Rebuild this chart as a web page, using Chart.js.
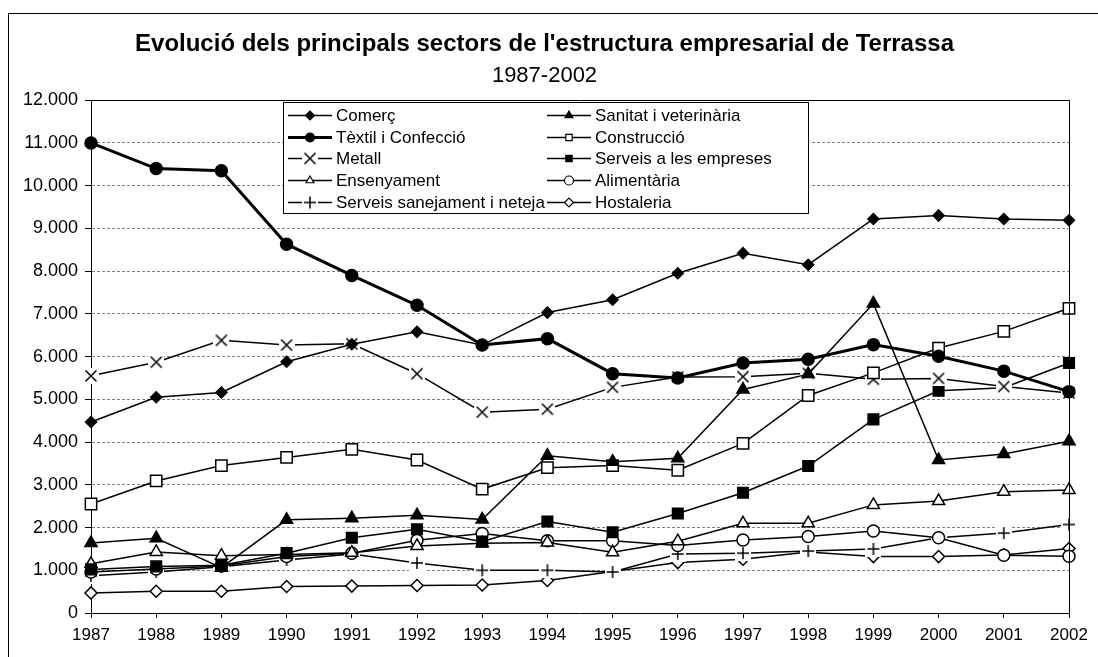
<!DOCTYPE html>
<html>
<head>
<meta charset="utf-8">
<script src="https://cdn.jsdelivr.net/npm/chart.js@4/dist/chart.umd.min.js"></script>
<style>
  html, body { margin: 0; padding: 0; background: #fff; }
</style>
</head>
<body>
<canvas id="myChart" width="1098" height="657"></canvas>
<script>
// years on the x axis
const years = ['1987', '1988', '1989', '1990', '1991', '1992', '1993', '1994',
               '1995', '1996', '1997', '1998', '1999', '2000', '2001', '2002'];

// number of companies per sector
const comerc      = [4470, 5050, 5160, 5880, 6290, 6580, 6270, 7030, 7330, 7950, 8420, 8150, 9220, 9300, 9220, 9190];
const sanitat     = [1640, 1750, 1060, 2180, 2220, 2290, 2190, 3680, 3540, 3620, 5230, 5590, 7240, 3580, 3720, 4020];
const textil      = [11000, 10400, 10350, 8630, 7900, 7200, 6270, 6420, 5600, 5500, 5850, 5940, 6280, 6010, 5660, 5180];
const construccio = [2550, 3090, 3450, 3640, 3830, 3580, 2900, 3400, 3450, 3340, 3970, 5090, 5620, 6200, 6590, 7130];
const metall      = [5550, 5870, 6380, 6270, 6300, 5600, 4700, 4770, 5280, 5520, 5530, 5610, 5470, 5490, 5300, 5150];
const serveisEmp  = [1020, 1090, 1120, 1400, 1760, 1960, 1670, 2140, 1890, 2330, 2815, 3440, 4530, 5200, 5270, 5850];
const ensenyament = [1150, 1430, 1340, 1370, 1410, 1570, 1630, 1650, 1420, 1680, 2100, 2100, 2530, 2620, 2840, 2880];
const alimentaria = [960, 1030, 1100, 1320, 1400, 1700, 1860, 1690, 1690, 1580, 1710, 1790, 1920, 1760, 1350, 1330];
const sanejament  = [870, 960, 1080, 1240, 1380, 1170, 1000, 1000, 960, 1380, 1400, 1450, 1500, 1760, 1870, 2070];
const hostaleria  = [470, 510, 510, 620, 630, 645, 655, 760, 970, 1180, 1260, 1430, 1320, 1320, 1360, 1510];

const FONT = "'Liberation Sans', Arial, sans-serif";

// markers with a white box behind them (the line stops around the marker)
function boxMarker(kind) {
    const c = document.createElement('canvas');
    c.width = 16; c.height = 16;
    const g = c.getContext('2d');
    g.fillStyle = '#fff';
    g.fillRect(0, 0, 16, 16);
    g.strokeStyle = '#000';
    g.lineWidth = 1.5;
    g.beginPath();
    if (kind === 'x') {
        g.moveTo(2.5, 2.5); g.lineTo(13.5, 13.5);
        g.moveTo(13.5, 2.5); g.lineTo(2.5, 13.5);
    } else {
        g.moveTo(8, 2); g.lineTo(8, 14);
        g.moveTo(2, 8); g.lineTo(14, 8);
    }
    g.stroke();
    return c;
}

function series(label, data, style, radius, fill, width) {
    return {
        label: label,
        data: data,
        borderColor: '#000',
        borderWidth: width || 1.5,
        pointStyle: style,
        pointRadius: radius,
        pointBackgroundColor: fill,
        pointBorderColor: '#000',
        pointBorderWidth: 1.5,
        tension: 0,
        clip: false
    };
}

const datasets = [
    series('Comerç', comerc, 'rectRot', 5.5, '#000'),
    series('Sanitat i veterinària', sanitat, 'triangle', 7, '#000'),
    series('Tèxtil i Confecció', textil, 'circle', 6, '#000', 3),
    series('Construcció', construccio, 'rect', 8, '#fff'),
    series('Metall', metall, boxMarker('x'), 7, '#fff'),
    series('Serveis a les empreses', serveisEmp, 'rect', 7.5, '#000'),
    series('Ensenyament', ensenyament, 'triangle', 7, '#fff'),
    series('Alimentària', alimentaria, 'circle', 6, '#fff'),
    series('Serveis sanejament i neteja', sanejament, boxMarker('+'), 7, '#fff'),
    series('Hostaleria', hostaleria, 'rectRot', 6, '#fff')
];

// white page + outer frame, plot area border
const framePlugin = {
    id: 'frame',
    beforeDraw(chart) {
        const ctx = chart.ctx;
        ctx.save();
        ctx.fillStyle = '#fff';
        ctx.fillRect(0, 0, chart.width, chart.height);
        ctx.strokeStyle = '#000';
        ctx.lineWidth = 1;
        ctx.strokeRect(8.5, 13.5, chart.width + 20, chart.height + 20);
        ctx.restore();
    },
    afterDraw(chart) {
        const a = chart.chartArea;
        const ctx = chart.ctx;
        ctx.save();
        ctx.strokeStyle = '#000';
        ctx.lineWidth = 1;
        ctx.beginPath();
        ctx.moveTo(Math.round(a.left) + 0.5, Math.round(a.top) + 0.5);
        ctx.lineTo(Math.round(a.right) + 0.5, Math.round(a.top) + 0.5);
        ctx.lineTo(Math.round(a.right) + 0.5, Math.round(a.bottom) + 0.5);
        ctx.stroke();
        ctx.restore();
    }
};

// two-column legend box laid over the plot
const boxLegend = {
    id: 'boxLegend',
    afterDraw(chart) {
        const ctx = chart.ctx;
        ctx.save();
        ctx.fillStyle = '#fff';
        ctx.fillRect(283.5, 102.5, 525, 111);
        ctx.strokeStyle = '#000';
        ctx.lineWidth = 1;
        ctx.strokeRect(283.5, 102.5, 525, 111);
        ctx.font = '17px ' + FONT;
        ctx.textBaseline = 'middle';
        chart.data.datasets.forEach((ds, i) => {
            const col = i % 2;
            const row = Math.floor(i / 2);
            const x0 = col ? 547 : 288;
            const y = Math.round(115 + row * 21.7) + 0.5;
            ctx.strokeStyle = '#000';
            ctx.lineWidth = ds.borderWidth;
            ctx.beginPath();
            ctx.moveTo(x0, y);
            ctx.lineTo(x0 + 44, y);
            ctx.stroke();
            ctx.fillStyle = ds.pointBackgroundColor;
            ctx.lineWidth = 1.2;
            if (Chart.helpers && Chart.helpers.drawPoint) {
                Chart.helpers.drawPoint(ctx, {
                    pointStyle: ds.pointStyle,
                    radius: typeof ds.pointStyle === 'string' ? 4.5 : 5,
                    borderWidth: 1.2,
                    rotation: 0
                }, x0 + 22, y);
            }
            ctx.fillStyle = '#000';
            ctx.fillText(ds.label, x0 + 48, y + 1);
        });
        ctx.restore();
    }
};

function thousands(v) {
    return String(v).replace(/\B(?=(\d{3})+(?!\d))/g, '.');
}

new Chart(document.getElementById('myChart'), {
    type: 'line',
    data: {
        labels: years,
        datasets: datasets
    },
    options: {
        responsive: false,
        animation: false,
        devicePixelRatio: 1,
        events: [],
        layout: {
            padding: { top: 0, left: 20, right: 29, bottom: 0 }
        },
        plugins: {
            legend: { display: false },
            tooltip: { enabled: false },
            title: {
                display: true,
                text: "Evolució dels principals sectors de l'estructura empresarial de Terrassa",
                color: '#000',
                font: { family: FONT, size: 24, weight: 'bold', lineHeight: 1.2 },
                padding: { top: 30, bottom: 4 }
            },
            subtitle: {
                display: true,
                text: '1987-2002',
                color: '#000',
                font: { family: FONT, size: 22, weight: 'normal', lineHeight: 1.2 },
                padding: { top: 0, bottom: 11 }
            }
        },
        scales: {
            x: {
                offset: false,
                afterFit: s => { s.height = 44; },
                grid: {
                    drawOnChartArea: false,
                    color: '#000',
                    tickLength: 5
                },
                border: { display: true, color: '#000', width: 1 },
                ticks: {
                    color: '#000',
                    font: { family: FONT, size: 17 },
                    padding: 7,
                    maxRotation: 0,
                    autoSkip: false
                }
            },
            y: {
                min: 0,
                max: 12000,
                afterFit: s => { s.width = 71; },
                grid: {
                    color: '#808080',
                    tickColor: '#000',
                    tickLength: 6
                },
                border: { display: true, color: '#000', width: 1, dash: [3, 2] },
                ticks: {
                    stepSize: 1000,
                    color: '#000',
                    font: { family: FONT, size: 18 },
                    padding: 7,
                    callback: v => thousands(v)
                }
            }
        }
    },
    plugins: [framePlugin, boxLegend]
});
</script>
</body>
</html>
